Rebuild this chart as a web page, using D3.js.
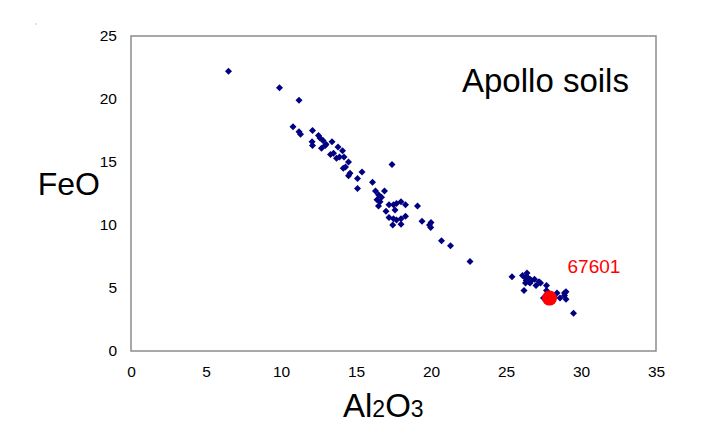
<!DOCTYPE html>
<html>
<head>
<meta charset="utf-8">
<script src="https://cdn.jsdelivr.net/npm/d3@7"></script>
<style>
  body { margin: 0; background: #fff; }
  text { font-family: "Liberation Sans", Arial, sans-serif; fill: #000; }
</style>
</head>
<body>
<div id="chart"></div>
<script>
let svgWidth = 702;
let svgHeight = 443;
let margin = { top: 36, right: 46, bottom: 92, left: 131 };
let width = svgWidth - margin.left - margin.right;
let height = svgHeight - margin.top - margin.bottom;

// Data: Apollo soils, Al2O3 vs FeO (wt%)
let al2o3 = [6.5, 9.9, 11.2, 10.8, 11.2, 11.3, 12.1, 12.07, 12.1, 12.5,
  12.6, 12.7, 12.95, 13.0, 12.8, 13.4, 13.3, 13.5, 13.7, 13.9,
  13.8, 14.1, 14.2, 14.3, 14.5, 14.15, 14.6, 14.5, 15.4, 15.1,
  15.1, 16.1, 16.3, 17.4, 16.9, 16.5, 16.4, 16.6, 16.5, 16.7,
  17.2, 17.5, 17.7, 18.0, 18.3, 17.6, 17.0, 17.2, 17.5, 17.7,
  17.45, 18.0, 18.3, 18.0, 19.1, 19.4, 19.9, 20.0, 19.98, 20.7,
  21.3, 22.6, 25.4, 26.1, 26.4, 26.3, 26.5, 26.7, 26.9, 27.2,
  27.3, 26.6, 27.0, 26.2, 27.7, 27.7, 28.4, 28.6, 28.9, 29.0,
  29.0, 27.5, 29.5, 26.4, 26.6, 28.2, 28.9, 26.35, 26.3];
let feo = [22.2, 20.9, 19.9, 17.8, 17.4, 17.2, 17.5, 16.6, 16.3, 17.1,
  16.9, 16.1, 16.3, 16.4, 16.7, 16.6, 15.6, 15.7, 15.3, 15.4,
  16.2, 15.9, 15.4, 14.6, 15.0, 14.5, 14.1, 13.9, 14.2, 13.7,
  12.9, 13.4, 12.7, 14.8, 12.7, 12.4, 12.0, 11.85, 11.5, 12.2,
  11.6, 11.6, 11.7, 11.85, 11.6, 11.2, 11.1, 10.6, 10.5, 10.4,
  10.0, 10.5, 10.7, 10.05, 11.5, 10.3, 10.0, 10.2, 9.8, 8.75,
  8.35, 7.1, 5.9, 6.0, 6.2, 5.8, 5.5, 5.6, 5.7, 5.5,
  5.4, 5.4, 5.2, 4.8, 5.2, 4.8, 4.6, 4.2, 4.4, 4.7,
  4.1, 4.2, 3.0, 5.9, 5.7, 4.3, 4.6, 5.6, 5.4];

let sampleName = "67601";
let sampleAl2o3 = 27.9;
let sampleFeo = 4.2;

let xTicks = [0, 5, 10, 15, 20, 25, 30, 35];
let yTicks = [0, 5, 10, 15, 20, 25];

let svg = d3.select("#chart").append("svg").attr("width", svgWidth).attr("height", svgHeight);
let chartGroup = svg.append("g").attr("transform", `translate(${margin.left}, ${margin.top})`);

let xScale = d3.scaleLinear().domain([0, 35]).range([0, width]);
let yScale = d3.scaleLinear().domain([0, 25]).range([height, 0]);

// Plot frame
chartGroup.append("rect")
  .attr("width", width)
  .attr("height", height)
  .attr("fill", "none")
  .attr("stroke", "#8c8c8c")
  .attr("stroke-width", 1.5);

// Axes (labels only, no tick marks)
let xAxis = chartGroup.append("g")
  .attr("transform", `translate(0, ${height})`)
  .call(d3.axisBottom(xScale).tickValues(xTicks).tickSize(0).tickPadding(15));
let yAxis = chartGroup.append("g")
  .call(d3.axisLeft(yScale).tickValues(yTicks).tickSize(0).tickPadding(14));

[xAxis, yAxis].forEach(a => {
  a.attr("font-size", null).attr("font-family", null);
  a.select(".domain").remove();
  a.selectAll("text")
    .style("font-family", '"Liberation Sans", Arial, sans-serif')
    .style("font-size", "15.5px")
    .attr("fill", "#000");
});
yAxis.selectAll("text").attr("dy", "0.3em");

// Soil points
let data = al2o3.map((x, i) => ({ x: x, y: feo[i] }));
let diamond = "M0,-3.5L3.5,0L0,3.5L-3.5,0Z";

chartGroup.selectAll(".soil")
  .data(data)
  .enter()
  .append("path")
  .attr("class", "soil")
  .attr("d", diamond)
  .attr("transform", d => `translate(${xScale(d.x)}, ${yScale(d.y)})`)
  .attr("fill", "#000080");

// 67601 highlight
chartGroup.append("circle")
  .attr("cx", xScale(sampleAl2o3))
  .attr("cy", yScale(sampleFeo))
  .attr("r", 7.5)
  .attr("fill", "#ff0000");

chartGroup.append("text")
  .attr("x", xScale(sampleAl2o3) + 18)
  .attr("y", yScale(sampleFeo) - 25)
  .style("font-size", "19px")
  .style("fill", "#ff0000")
  .text(sampleName);

// Titles
svg.append("text")
  .attr("x", 462)
  .attr("y", 92)
  .style("font-size", "33px")
  .text("Apollo soils");

svg.append("text")
  .attr("x", 100)
  .attr("y", 195)
  .attr("text-anchor", "end")
  .style("font-size", "32px")
  .text("FeO");

let xTitle = svg.append("text")
  .attr("x", 343)
  .attr("y", 417)
  .style("font-size", "33px");
xTitle.append("tspan").text("Al");
xTitle.append("tspan").style("font-size", "23px").text("2");
xTitle.append("tspan").text("O");
xTitle.append("tspan").style("font-size", "23px").text("3");

// stray speck in the top-left corner
svg.append("rect")
  .attr("x", 35.5)
  .attr("y", 23.5)
  .attr("width", 1)
  .attr("height", 1)
  .attr("fill", "#999");
</script>
</body>
</html>
